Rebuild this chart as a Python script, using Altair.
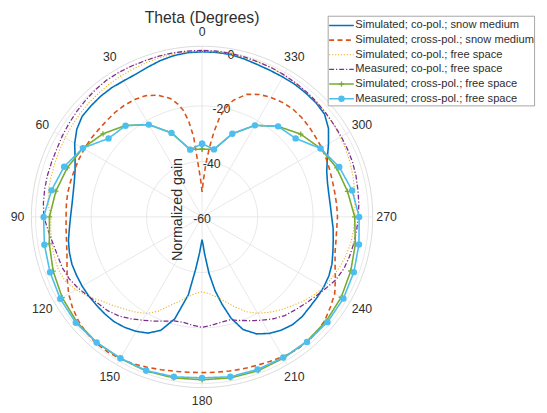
import altair as alt
import pandas as pd

# ---------------- data (normalized gain in dB vs theta in degrees) ----------------
names = [
    "Simulated; co-pol.; snow medium",
    "Simulated; cross-pol.; snow medium",
    "Simulated; co-pol.; free space",
    "Measured; co-pol.; free space",
    "Simulated; cross-pol.; free space",
    "Measured; cross-pol.; free space",
]
colors = ["#0072BD", "#D95319", "#EDB120", "#7E2F8E", "#77AC30", "#4DBEEE"]

theta_5 = [0, 5, 10, 15, 20, 25, 30, 35, 40, 45, 50, 55, 60, 65, 70, 75, 80, 85, 90, 95,
           100, 105, 110, 115, 120, 125, 130, 135, 140, 145, 150, 155, 160, 165, 170, 175,
           180, 185, 190, 195, 200, 205, 210, 215, 220, 225, 230, 235, 240, 245, 250, 255,
           260, 265, 270, 275, 280, 285, 290, 295, 300, 305, 310, 315, 320, 325, 330, 335,
           340, 345, 350, 355, 360]
theta_10 = [0, 10, 20, 30, 40, 50, 60, 70, 80, 90, 100, 110, 120, 130, 140, 150, 160, 170,
            180, 190, 200, 210, 220, 230, 240, 250, 260, 270, 280, 290, 300, 310, 320, 330,
            340, 350, 360]

sim_co_snow_theta = [0, 5, 10, 15, 20, 25, 30, 35, 40, 45, 50, 55, 60, 65, 70, 75, 80, 85, 90, 95,
                     100, 105, 110, 115, 120, 125, 130, 135, 140, 145, 150, 155, 160, 165, 170,
                     173, 176, 178, 180, 182, 184, 187, 190, 193, 196,
                     200, 205, 210, 215, 220, 225, 230, 235, 240, 245, 250, 255, 260, 265, 270,
                     275, 280, 285, 290, 295, 300, 305, 310, 315, 320, 325, 330, 335, 340, 345,
                     350, 355, 360]
sim_co_snow = [-0.5, -0.6, -1.0, -1.7, -2.6, -3.3, -3.4, -3.2, -3.2, -3.4,
               -3.6, -4.9, -7.0, -9.5, -11.3, -12.3, -12.8, -12.9, -12.6, -12.0,
               -11.1, -10.5, -10.1, -10.1, -10.1, -10.2, -10.4, -10.5, -10.7, -11.4,
               -12.4, -13.8, -16.5, -22.0, -31.5,
               -41.0, -47.0, -50.0, -51.8, -50.0, -46.5, -39.5, -33.0, -27.5, -22.0,
               -16.8, -13.5, -11.5, -10.2, -9.3, -9.1, -9.4, -9.4, -9.4, -9.6,
               -10.2, -11.2, -12.0, -12.6, -13.3, -13.6, -13.6, -13.2, -12.2, -10.2,
               -7.4, -4.4, -2.4, -1.9, -1.8, -1.7, -1.8, -1.8, -1.6, -1.1,
               -0.6, -0.5, -0.5]

sim_cross_snow_theta = [0, 2, 4, 6, 8, 10, 12, 15,
                        20, 25, 30, 35, 40, 45, 50, 55, 60, 65, 70, 75, 80, 85, 90, 95, 100,
                        105, 110, 115, 120, 125, 130, 135, 140, 145, 150, 155, 160, 165, 170,
                        175, 180, 185, 190, 195, 200, 205, 210, 215, 220, 225, 230, 235, 240,
                        245, 250, 255, 260, 265, 270, 275, 280, 285, 290, 295, 300, 305, 310,
                        315, 320, 325, 330, 335, 340,
                        345, 348, 350, 352, 354, 356, 358, 360]
sim_cross_snow = [-51.0, -47.0, -42.0, -31.0, -25.0, -21.0, -18.5, -15.8,
                  -13.3, -11.8, -11.2, -11.0, -11.0, -11.2, -11.2, -11.0, -11.0, -11.0,
                  -11.0, -10.9, -10.8, -10.9, -11.0, -10.8, -10.4, -9.6, -8.2, -6.4,
                  -4.5, -3.0, -1.8, -1.0, -0.6, -0.6, -1.0, -1.6, -2.3, -3.0,
                  -3.5, -3.8, -3.9, -3.8, -3.6, -3.3, -3.0, -2.5, -1.8, -1.3,
                  -1.1, -1.4, -2.2, -3.5, -4.8, -7.0, -9.0, -10.4, -11.0, -11.3,
                  -11.2, -11.3, -11.4, -11.3, -11.0, -10.6, -10.2, -10.0, -9.6, -9.3,
                  -9.2, -9.6, -10.3, -11.3, -13.0,
                  -16.5, -20.0, -23.5, -29.0, -35.0, -41.0, -47.0, -51.0]

sim_co_free = [-0.3, -0.3, -0.4, -0.6, -0.9, -1.2, -1.4, -1.6, -1.9, -2.1,
               -2.4, -2.7, -3.0, -3.3, -3.5, -3.7, -3.8, -4.3, -5.5, -5.3,
               -5.0, -4.8, -4.8, -5.5, -7.5, -10.0, -12.8, -14.8, -16.6, -18.2,
               -19.8, -22.5, -26.0, -28.5, -30.8, -32.3, -33.0, -32.3, -30.8, -28.5,
               -25.5, -22.3, -19.9, -18.0, -16.2, -14.6, -12.6, -10.9, -9.2, -8.3,
               -7.2, -6.3, -5.6, -5.2, -5.0, -4.7, -4.2, -3.7, -3.2, -2.8,
               -2.5, -2.1, -1.8, -1.6, -1.4, -1.2, -1.0, -0.8, -0.6, -0.5,
               -0.4, -0.3, -0.3]

meas_co_free = [0.0, 0.0, 0.0, 0.0, -0.1, 0.0, 0.1, 0.1, -0.2, -0.6,
                -1.0, -1.4, -1.8, -2.2, -2.3, -2.3, -2.4, -2.6, -3.0, -4.3,
                -5.4, -6.1, -6.4, -7.2, -8.5, -10.1, -11.3, -12.1, -13.4, -15.2,
                -17.0, -18.6, -20.0, -21.2, -21.4, -20.8, -20.2, -20.8, -21.4, -21.6,
                -20.3, -18.7, -17.0, -15.2, -13.6, -12.6, -11.4, -10.1, -8.5, -6.7,
                -5.6, -5.0, -4.5, -4.1, -3.7, -3.3, -3.0, -2.6, -2.3, -2.2,
                -2.1, -2.0, -1.8, -1.5, -1.3, -1.1, -0.9, -0.7, -0.6, -0.4,
                -0.2, 0.0, 0.0]

sim_cross_free = [-35.6, -35.3, -27.8, -21.6, -17.0, -13.4, -10.4, -8.3, -6.5, -5.0,
                  -4.1, -2.9, -1.8, -1.1, -0.9, -1.1, -0.9, -1.1, -1.3, -1.1,
                  -1.0, -1.25, -1.4, -1.6, -2.1, -3.0, -3.9, -5.0, -6.8, -8.4,
                  -10.7, -13.6, -17.4, -21.9, -28.1, -35.3, -35.6]

meas_cross_free = [-33.6, -35.4, -27.8, -21.6, -17.1, -16.0, -10.4, -7.1, -4.9, -2.9,
                   -2.3, -1.7, -1.0, -0.6, -0.9, -1.2, -1.1, -1.5, -2.0, -1.5,
                   -1.5, -1.5, -1.2, -1.0, -1.2, -1.8, -2.6, -3.4, -5.1, -7.4,
                   -10.7, -16.0, -17.4, -21.9, -28.1, -35.3, -33.6]

theta_ticks = [0, 30, 60, 90, 120, 150, 180, 210, 240, 270, 300, 330]
r_ticks = [-60, -40, -20, 0]
ring_levels = [-40, -20, 0]
r_min, r_max = -60, 1.5

# ---------------- geometry of the view ----------------
K = 2.817            # pixels per dB
CX, CY = 197, 209    # centre of the polar axes inside the plot area
W, H = 539, 405
XMIN = -CX / K
XMAX = XMIN + W / K
YMAX = CY / K
YMIN = YMAX - H / K
xs = alt.Scale(domain=[XMIN, XMAX], nice=False, zero=False)
ys = alt.Scale(domain=[YMIN, YMAX], nice=False, zero=False)

FONT = "Liberation Sans"
TXT = "#2e2e2e"
GRID = "#e2e2e2"

POLAR_X = "-(datum.gain + 60) * sin(datum.theta * PI / 180)"
POLAR_Y = "(datum.gain + 60) * cos(datum.theta * PI / 180)"


def polar(chart):
    return chart.transform_calculate(px=POLAR_X, py=POLAR_Y)


def enc_xy():
    return dict(x=alt.X("px:Q", scale=xs, axis=None), y=alt.Y("py:Q", scale=ys, axis=None))


layers = []

# rings
ring_rows = []
for lv in ring_levels + [r_max]:
    for t in range(0, 361, 3):
        ring_rows.append({"level": lv, "theta": t, "gain": lv})
ring_df = pd.DataFrame(ring_rows)
layers.append(
    polar(alt.Chart(ring_df)).mark_line(strokeWidth=0.8).encode(
        **enc_xy(), detail="level:N", order="theta:Q",
        color=alt.Color("level:N", scale=alt.Scale(domain=ring_levels + [r_max],
                                                    range=[GRID, GRID, GRID, "#d2d2d2"]),
                        legend=None))
)

# spokes
spoke_df = pd.DataFrame({"theta": theta_ticks, "gain": [r_max] * len(theta_ticks)})
layers.append(
    polar(alt.Chart(spoke_df)).transform_calculate(zero="0").mark_rule(
        color=GRID, strokeWidth=0.8).encode(
        x=alt.X("zero:Q", scale=xs, axis=None), y=alt.Y("zero:Q", scale=ys, axis=None),
        x2="px:Q", y2="py:Q")
)

# theta tick labels
tl_df = pd.DataFrame({"theta": theta_ticks, "gain": [6.5] * len(theta_ticks),
                      "label": [str(t) for t in theta_ticks]})
layers.append(
    polar(alt.Chart(tl_df)).mark_text(font=FONT, fontSize=12.5, color=TXT,
                                      align="center", baseline="middle").encode(
        **enc_xy(), text="label:N")
)

# radial tick labels
rl_df = pd.DataFrame({"theta": [350] * len(r_ticks), "gain": r_ticks,
                      "label": [str(r) for r in r_ticks]})
layers.append(
    polar(alt.Chart(rl_df)).mark_text(font=FONT, fontSize=12.5, color=TXT,
                                      align="center", baseline="middle", dy=2).encode(
        **enc_xy(), text="label:N")
)

# series
series = [
    (sim_co_snow_theta, sim_co_snow),
    (sim_cross_snow_theta, sim_cross_snow),
    (theta_5, sim_co_free),
    (theta_5, meas_co_free),
    (theta_10, sim_cross_free),
    (theta_10, meas_cross_free),
]
dashes = [[1, 0], [5, 3.5], [1.2, 1.8], [5, 2, 1.2, 2], [1, 0], [1, 0]]
widths = [1.6, 1.6, 1.1, 1.3, 1.6, 1.6]

frames = []
for name, (th, g) in zip(names, series):
    assert len(th) == len(g), name
    frames.append(pd.DataFrame({"theta": th, "gain": g, "series": name, "i": range(len(th))}))

for k, df in enumerate(frames):
    layers.append(
        polar(alt.Chart(df)).mark_line(color=colors[k], strokeWidth=widths[k],
                                       strokeDash=dashes[k]).encode(
            **enc_xy(), order="i:Q")
    )
    if k == 4:
        layers.append(
            polar(alt.Chart(df)).mark_point(shape="M-1,0H1M0,-1V1", filled=False, size=28,
                                            color=colors[k], strokeWidth=1.3, opacity=1).encode(**enc_xy())
        )
    if k == 5:
        layers.append(
            polar(alt.Chart(df)).mark_point(shape="circle", filled=True, size=42,
                                            color=colors[k], opacity=1).encode(**enc_xy())
        )

one = pd.DataFrame({"a": [0]})

# legend
LX0, LX1, LTX = 326, 351, 352.5
row_y = [14.7 + 14.86 * i for i in range(6)]
layers.append(
    alt.Chart(one).mark_rect(fill="white", stroke="#8f8f8f", strokeWidth=0.8).encode(
        x=alt.value(325), x2=alt.value(534.5), y=alt.value(5.3), y2=alt.value(96.3))
)
for k, name in enumerate(names):
    layers.append(
        alt.Chart(one).mark_rule(color=colors[k], strokeWidth=widths[k],
                                 strokeDash=dashes[k]).encode(
            x=alt.value(LX0), x2=alt.value(LX1), y=alt.value(row_y[k]))
    )
    layers.append(
        alt.Chart(pd.DataFrame({"t": [name]})).mark_text(
            font=FONT, fontSize=11.3, color=TXT, align="left", baseline="middle").encode(
            x=alt.value(LTX), y=alt.value(row_y[k]), text="t:N")
    )
layers.append(
    alt.Chart(one).mark_point(shape="M-1,0H1M0,-1V1", filled=False, size=28,
                              color=colors[4], strokeWidth=1.3, opacity=1).encode(
        x=alt.value((LX0 + LX1) / 2), y=alt.value(row_y[4]))
)
layers.append(
    alt.Chart(one).mark_point(shape="circle", filled=True, size=42,
                              color=colors[5], opacity=1).encode(
        x=alt.value((LX0 + LX1) / 2), y=alt.value(row_y[5]))
)

# titles
layers.append(
    alt.Chart(pd.DataFrame({"t": ["Theta (Degrees)"]})).mark_text(
        font=FONT, fontSize=16, color=TXT, align="center", baseline="middle").encode(
        x=alt.value(197), y=alt.value(7.5), text="t:N")
)
layers.append(
    alt.Chart(pd.DataFrame({"t": ["Normalized gain"]})).mark_text(
        font=FONT, fontSize=14.5, color=TXT, align="center", baseline="middle", angle=270).encode(
        x=alt.value(173), y=alt.value(201.5), text="t:N")
)

chart = alt.layer(*layers).properties(
    width=W, height=H, autosize=alt.AutoSizeParams(type="none"), padding=0
).configure_view(stroke=None)

chart.save("out.html", embed_options={"renderer": "svg", "actions": False})
